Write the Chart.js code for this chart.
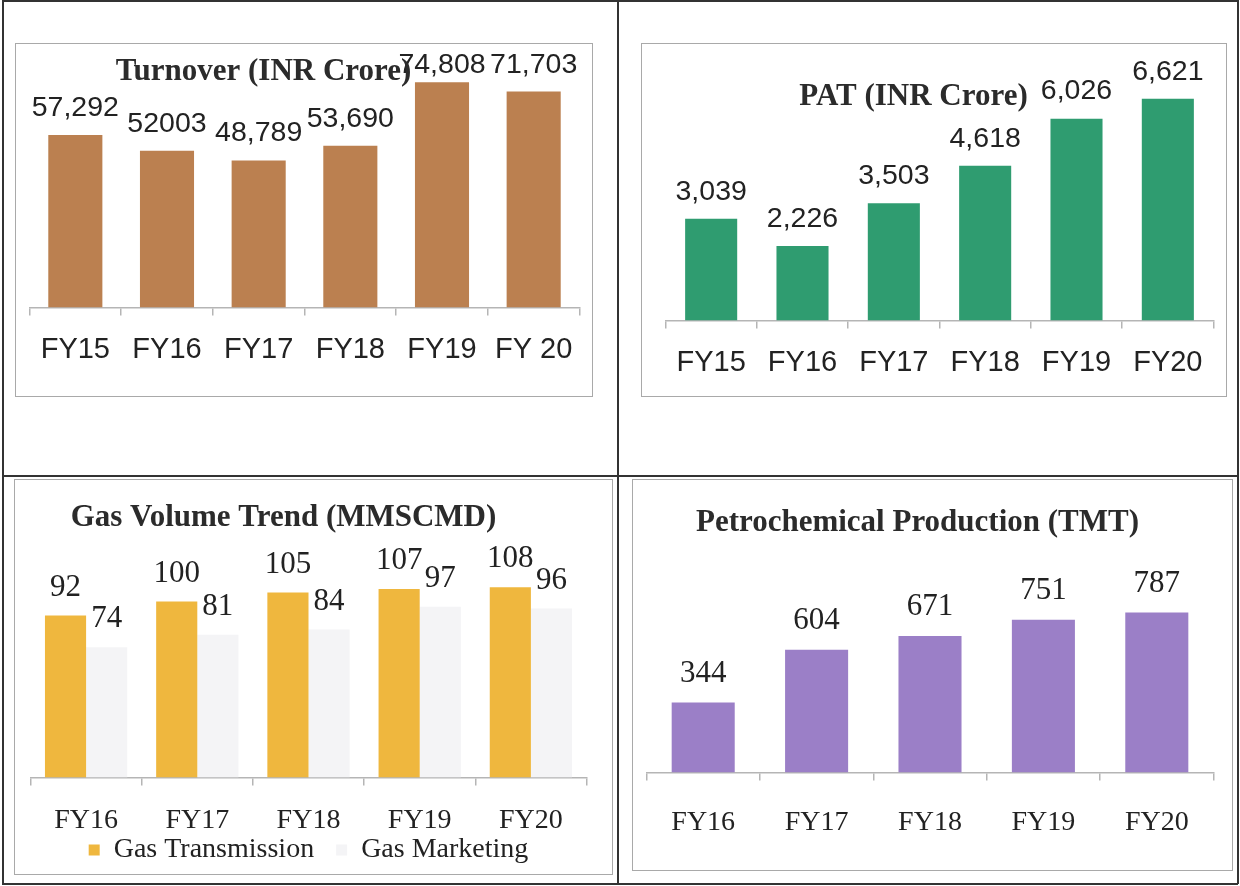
<!DOCTYPE html>
<html>
<head>
<meta charset="utf-8">
<script src="https://cdn.jsdelivr.net/npm/chart.js@4.4.1/dist/chart.umd.min.js"></script>
<style>
  html, body { margin: 0; padding: 0; background: #fff; }
  body { width: 1240px; height: 886px; position: relative; overflow: hidden; }
  .rule { position: absolute; background: #333; }
  .box { position: absolute; border: 1.5px solid #a9a9a9; box-sizing: border-box; background: #fff; }
  .box canvas { position: absolute; left: 0; top: 0; }
</style>
</head>
<body>
<!-- table lines -->
<div class="rule" style="left:2px;top:0;width:1236px;height:1.5px"></div>
<div class="rule" style="left:2px;top:883px;width:1236px;height:1.5px"></div>
<div class="rule" style="left:2px;top:0;width:1.5px;height:884px"></div>
<div class="rule" style="left:1237px;top:0;width:1.5px;height:884px"></div>
<div class="rule" style="left:617px;top:0;width:1.5px;height:884px"></div>
<div class="rule" style="left:2px;top:475px;width:1236px;height:1.5px"></div>

<div class="box" style="left:15px;top:43px;width:578px;height:354px"><canvas id="turnoverChart" width="575" height="351"></canvas></div>
<div class="box" style="left:641px;top:43px;width:586px;height:354px"><canvas id="patChart" width="583" height="351"></canvas></div>
<div class="box" style="left:14px;top:479px;width:599px;height:396px"><canvas id="gasChart" width="596" height="393"></canvas></div>
<div class="box" style="left:632px;top:479px;width:601px;height:392px"><canvas id="petroChart" width="598" height="389"></canvas></div>

<script>
// データ
const fyTurnover = ['FY15', 'FY16', 'FY17', 'FY18', 'FY19', 'FY 20'];
const fyPat = ['FY15', 'FY16', 'FY17', 'FY18', 'FY19', 'FY20'];
const fyBottom = ['FY16', 'FY17', 'FY18', 'FY19', 'FY20'];

const turnover = [57292, 52003, 48789, 53690, 74808, 71703];
const turnoverText = ['57,292', '52003', '48,789', '53,690', '74,808', '71,703'];
const pat = [3039, 2226, 3503, 4618, 6026, 6621];
const gasTransmission = [92, 100, 105, 107, 108];
const gasMarketing = [74, 81, 84, 97, 96];
const petrochem = [344, 604, 671, 751, 787];

const SANS = '"Liberation Sans", Arial, sans-serif';
const SERIF = '"Liberation Serif", "Times New Roman", serif';

// 棒の上に値を描く
const barLabels = {
  id: 'barLabels',
  afterDatasetsDraw(chart, args, opts) {
    const ctx = chart.ctx;
    ctx.save();
    ctx.font = opts.font;
    ctx.fillStyle = opts.color;
    ctx.textAlign = 'center';
    ctx.textBaseline = 'middle';
    chart.data.datasets.forEach((ds, di) => {
      chart.getDatasetMeta(di).data.forEach((bar, i) => {
        const txt = ds.labelText ? ds.labelText[i] : ds.data[i].toLocaleString('en-US');
        let y = bar.y - opts.offset;
        if (opts.minY != null) y = Math.max(y, opts.minY);
        ctx.fillText(txt, bar.x, y);
      });
    });
    ctx.restore();
  }
};

// タイトルはプロットに重ねて描く (Excel風)
const overlayTitle = {
  id: 'overlayTitle',
  afterDraw(chart, args, opts) {
    const ctx = chart.ctx;
    ctx.save();
    ctx.font = 'bold 31px ' + SERIF;
    ctx.fillStyle = '#2b2b2b';
    ctx.textAlign = 'center';
    ctx.textBaseline = 'middle';
    ctx.fillText(opts.text, opts.x, opts.y);
    ctx.restore();
  }
};

Chart.register(barLabels, overlayTitle);

function options(o) {
  return {
    responsive: false,
    animation: false,
    events: [],
    layout: { padding: { left: o.padL, right: o.padR, top: o.padT, bottom: o.padB || 0 } },
    plugins: {
      legend: o.legend || { display: false },
      tooltip: { enabled: false },
      barLabels: { font: o.labelFont, color: '#222', offset: o.labelOffset, minY: o.minY },
      overlayTitle: o.title
    },
    scales: {
      x: {
        grid: { offset: true, drawOnChartArea: false, drawTicks: true, tickLength: 8, color: '#b5b5b5', lineWidth: 1.5 },
        border: { display: true, color: '#b5b5b5', width: 1.5 },
        ticks: { color: '#222', font: o.tickFont, padding: o.tickPad, maxRotation: 0 },
        afterFit: s => { s.height = o.axisH; }
      },
      y: { display: false, min: 0, max: o.yMax }
    }
  };
}

new Chart(document.getElementById('turnoverChart'), {
  type: 'bar',
  data: {
    labels: fyTurnover,
    datasets: [{ data: turnover, labelText: turnoverText, backgroundColor: '#BB8050',
      categoryPercentage: 1, barPercentage: 0.59 }]
  },
  options: options({
    padL: 13.5, padR: 11.5, padT: 22.5, axisH: 87.5, yMax: 80000,
    tickFont: { family: SANS, size: 29 }, tickPad: 17,
    labelFont: '28.5px ' + SANS, labelOffset: 27, minY: 21,
    title: { text: 'Turnover (INR Crore)', x: 247.5, y: 27.5 }
  })
});

new Chart(document.getElementById('patChart'), {
  type: 'bar',
  data: {
    labels: fyPat,
    datasets: [{ data: pat, backgroundColor: '#2F9C70', categoryPercentage: 1, barPercentage: 0.57 }]
  },
  options: options({
    padL: 23.5, padR: 11.5, padT: 8.5, axisH: 74.5, yMax: 8000,
    tickFont: { family: SANS, size: 29 }, tickPad: 17,
    labelFont: '28.5px ' + SANS, labelOffset: 27,
    title: { text: 'PAT (INR Crore)', x: 271.5, y: 52.5 }
  })
});

new Chart(document.getElementById('gasChart'), {
  type: 'bar',
  data: {
    labels: fyBottom,
    datasets: [
      { label: 'Gas Transmission', data: gasTransmission, backgroundColor: '#EFB73E', borderWidth: 0,
        categoryPercentage: 0.74, barPercentage: 1 },
      { label: 'Gas Marketing', data: gasMarketing, backgroundColor: '#F4F4F6', borderWidth: 0,
        categoryPercentage: 0.74, barPercentage: 1 }
    ]
  },
  options: options({
    padL: 15.5, padR: 24.5, padT: 86.2, padB: -1, axisH: 57.5, yMax: 120,
    tickFont: { family: SERIF, size: 28, lineHeight: 1 }, tickPad: 21,
    labelFont: '31px ' + SERIF, labelOffset: 28,
    title: { text: 'Gas Volume Trend (MMSCMD)', x: 268.5, y: 37.5 },
    legend: {
      display: true, position: 'bottom',
      labels: {
        boxWidth: 11, boxHeight: 11, padding: 1, color: '#222', font: { family: SERIF, size: 28 },
        // 凡例項目の間隔をあける
        generateLabels(chart) {
          const items = Chart.defaults.plugins.legend.labels.generateLabels(chart);
          items.forEach((it, i) => { if (i < items.length - 1) it.text += '   '; });
          return items;
        }
      }
    }
  })
});

new Chart(document.getElementById('petroChart'), {
  type: 'bar',
  data: {
    labels: fyBottom,
    datasets: [{ data: petrochem, backgroundColor: '#9B7FC7', categoryPercentage: 1, barPercentage: 0.556 }]
  },
  options: options({
    padL: 13.5, padR: 17.5, padT: 109.5, axisH: 96.5, yMax: 900,
    tickFont: { family: SERIF, size: 28 }, tickPad: 25,
    labelFont: '31px ' + SERIF, labelOffset: 29,
    title: { text: 'Petrochemical Production (TMT)', x: 284.5, y: 42.5 }
  })
});
</script>
</body>
</html>
